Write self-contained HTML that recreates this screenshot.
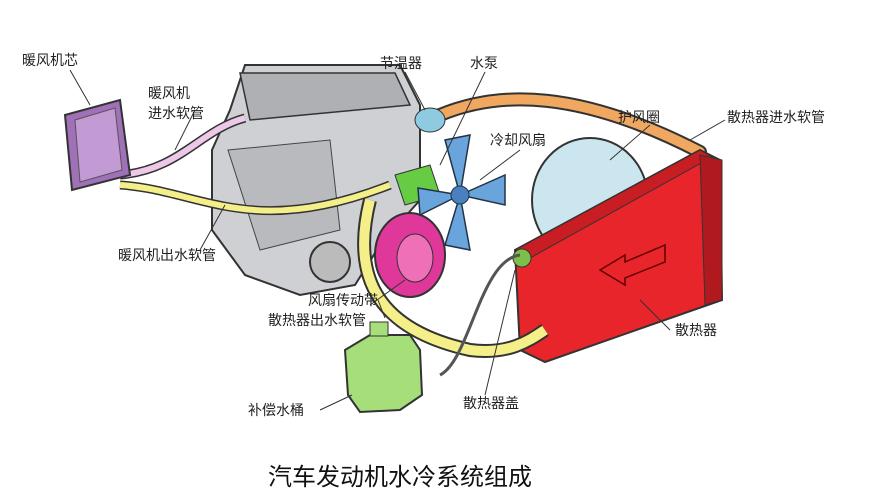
<!DOCTYPE html>
<html><head><meta charset="utf-8"><style>
html,body{margin:0;padding:0;background:#fff;}
svg{display:block}
text{font-family:"Liberation Sans","Noto Sans CJK SC",sans-serif;font-size:14px;fill:#222}
</style></head><body>
<svg width="878" height="499" viewBox="0 0 878 499" xmlns="http://www.w3.org/2000/svg">
<rect width="878" height="499" fill="#fff"/>
<!-- engine -->
<path d="M245 65 L400 65 L420 105 L420 200 L380 245 L355 285 L300 295 L245 275 L212 230 L212 150 L230 110 Z" fill="#cfd0d3" stroke="#333" stroke-width="2"/>
<path d="M240 73 L395 73 L410 105 L250 120 Z" fill="#aeb0b4" stroke="#333" stroke-width="1.5"/>
<path d="M228 150 L330 140 L340 230 L260 250 Z" fill="#b9babd" stroke="#444"/>
<circle cx="330" cy="262" r="20" fill="#bbb" stroke="#333" stroke-width="2"/>
<!-- orange hose -->
<path d="M440 115 C500 90 580 90 700 152" fill="none" stroke="#333" stroke-width="14" stroke-linecap="round"/>
<path d="M440 115 C500 90 580 90 700 152" fill="none" stroke="#f0a860" stroke-width="10" stroke-linecap="round"/>
<ellipse cx="430" cy="120" rx="15" ry="12" fill="#8ecbe0" stroke="#333"/>
<!-- shroud -->
<ellipse cx="590" cy="200" rx="58" ry="62" fill="#cbe6ee" stroke="#333" stroke-width="2"/>
<!-- radiator -->
<path d="M515 250 L700 150 L720 160 L722 300 L545 362 L520 350 Z" fill="#e8252b" stroke="#333" stroke-width="2"/>
<path d="M515 250 L700 150 L712 157 L530 258 Z" fill="#c81d22" stroke="#333"/>
<path d="M700 155 L722 160 L722 300 L705 305 Z" fill="#b01a1e" stroke="#333"/>
<path d="M600 270 L625 255 L625 262 L665 245 L665 262 L625 278 L625 285 Z" fill="none" stroke="#600" stroke-width="1.5"/>
<circle cx="522" cy="258" r="9" fill="#7bbf4a" stroke="#333"/>
<!-- yellow hoses -->
<path d="M370 200 C350 280 380 330 470 350 C510 355 530 340 545 330" fill="none" stroke="#333" stroke-width="14"/>
<path d="M370 200 C350 280 380 330 470 350 C510 355 530 340 545 330" fill="none" stroke="#f4ef88" stroke-width="10"/>
<path d="M120 185 C200 190 250 240 390 185" fill="none" stroke="#333" stroke-width="9"/>
<path d="M120 185 C200 190 250 240 390 185" fill="none" stroke="#f4ef88" stroke-width="6"/>
<path d="M120 175 C180 170 200 130 245 118" fill="none" stroke="#333" stroke-width="9"/>
<path d="M120 175 C180 170 200 130 245 118" fill="none" stroke="#eec8e8" stroke-width="6"/>
<path d="M440 375 C470 360 480 260 520 255" fill="none" stroke="#555" stroke-width="3"/>
<!-- pulley -->
<ellipse cx="410" cy="255" rx="35" ry="42" fill="#e0389a" stroke="#333" stroke-width="2"/>
<ellipse cx="415" cy="258" rx="18" ry="24" fill="#f070b8" stroke="#333"/>
<path d="M395 175 L430 165 L440 195 L405 205 Z" fill="#66cc44" stroke="#333"/>
<!-- fan -->
<g fill="#6aa4dc" stroke="#234" stroke-width="1.5">
<path d="M460 195 L445 140 L470 135 Z"/>
<path d="M460 195 L505 175 L505 205 Z"/>
<path d="M460 195 L470 250 L445 245 Z"/>
<path d="M460 195 L420 215 L418 188 Z"/>
</g>
<circle cx="460" cy="195" r="9" fill="#4a80c0" stroke="#234"/>
<!-- heater core -->
<path d="M65 115 L120 100 L130 175 L72 190 Z" fill="#a070b8" stroke="#333" stroke-width="2"/>
<path d="M75 120 L115 108 L122 170 L80 182 Z" fill="#c29ad4" stroke="#555"/>
<!-- reservoir -->
<path d="M345 350 L370 335 L410 335 L420 350 L422 395 L400 410 L360 412 L348 395 Z" fill="#a6de7a" stroke="#333" stroke-width="2"/>
<rect x="370" y="322" width="18" height="14" fill="#a6de7a" stroke="#333"/>
<!-- leader lines -->
<g stroke="#333" stroke-width="1">
<line x1="70" y1="70" x2="90" y2="105"/>
<line x1="195" y1="110" x2="175" y2="150"/>
<line x1="405" y1="72" x2="425" y2="110"/>
<line x1="485" y1="72" x2="440" y2="165"/>
<line x1="520" y1="150" x2="480" y2="180"/>
<line x1="650" y1="125" x2="610" y2="160"/>
<line x1="725" y1="120" x2="690" y2="140"/>
<line x1="200" y1="250" x2="225" y2="205"/>
<line x1="370" y1="305" x2="405" y2="280"/>
<line x1="385" y1="318" x2="378" y2="300"/>
<line x1="670" y1="330" x2="640" y2="300"/>
<line x1="320" y1="410" x2="352" y2="395"/>
<line x1="485" y1="395" x2="515" y2="270"/>
</g>
<text x="22" y="65">暖风机芯</text>
<text x="148" y="98">暖风机</text>
<text x="148" y="118">进水软管</text>
<text x="380" y="68">节温器</text>
<text x="470" y="68">水泵</text>
<text x="490" y="145">冷却风扇</text>
<text x="618" y="122">护风圈</text>
<text x="727" y="122">散热器进水软管</text>
<text x="118" y="260">暖风机出水软管</text>
<text x="308" y="305">风扇传动带</text>
<text x="268" y="325">散热器出水软管</text>
<text x="675" y="335">散热器</text>
<text x="248" y="415">补偿水桶</text>
<text x="463" y="408">散热器盖</text>
<text x="400" y="485" text-anchor="middle" style="font-size:24px;fill:#111">汽车发动机水冷系统组成</text>
</svg>
</body></html>
